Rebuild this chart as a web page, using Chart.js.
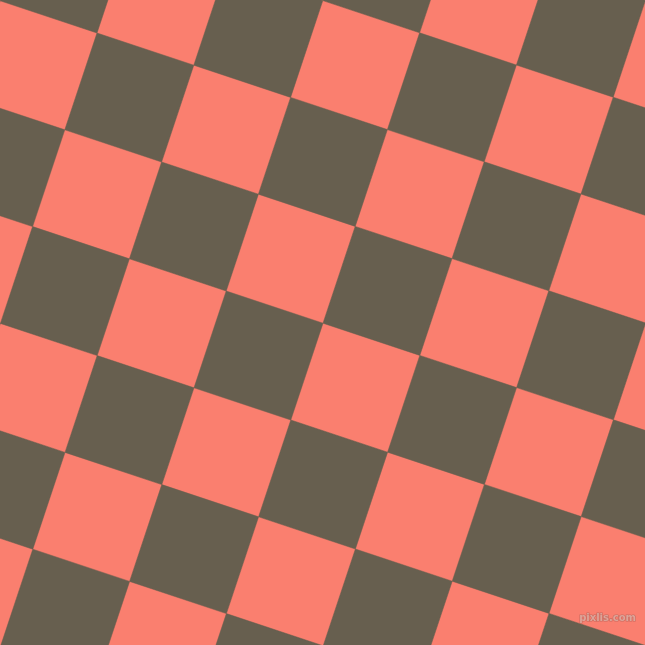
<!DOCTYPE html>
<html>
<head>
<meta charset="utf-8">
<script src="https://cdn.jsdelivr.net/npm/chart.js@4.4.1/dist/chart.umd.min.js"></script>
<style>
  html, body { margin: 0; padding: 0; background: #fa7f6f; }
  #board { display: block; }
</style>
</head>
<body>
<canvas id="board" width="645" height="645"></canvas>
<script>
// lattice of the tilted board
const tileCols = [-2, -1, 0, 1, 2, 3, 4, 5, 6, 7];
const tileRows = [-3, -2, -1, 0, 1, 2, 3, 4, 5, 6];
const gridOrigin = [97, 33];
const stepAcross = [96.8, 32.2];
const stepDown = [-32.2, 96.8];
const tileColors = ["#675f4f", "#fa7f6f"];

const corner = (i, j) => ({
  x: gridOrigin[0] + i * stepAcross[0] + j * stepDown[0],
  y: gridOrigin[1] + i * stepAcross[1] + j * stepDown[1],
});

const datasets = [];
tileCols.forEach((i) => {
  tileRows.forEach((j) => {
    // only the dark squares, the light ones are the page behind
    if (((i + j) % 2 + 2) % 2 !== 0) return;
    datasets.push({
      data: [corner(i, j), corner(i + 1, j), corner(i + 1, j + 1), corner(i, j + 1), corner(i, j)],
      backgroundColor: tileColors[0],
      borderColor: tileColors[0],
      borderWidth: 0.5,
      pointRadius: 0,
      fill: "shape",
      tension: 0,
    });
  });
});

const watermark = {
  id: "watermark",
  afterDraw(chart) {
    const ctx = chart.ctx;
    ctx.save();
    ctx.font = "bold 10px 'DejaVu Sans'";
    ctx.textAlign = "right";
    ctx.textBaseline = "middle";
    ctx.strokeStyle = "rgba(180,100,90,0.7)";
    ctx.lineWidth = 1.2;
    ctx.strokeText("pixlis.com", 636, 618);
    ctx.fillStyle = "rgba(222,170,158,0.9)";
    ctx.fillText("pixlis.com", 636, 618);
    ctx.restore();
  },
};

new Chart(document.getElementById("board").getContext("2d"), {
  type: "line",
  data: { datasets },
  options: {
    responsive: false,
    animation: false,
    events: [],
    layout: { padding: 0 },
    plugins: { legend: { display: false }, tooltip: { enabled: false } },
    scales: {
      x: { type: "linear", min: 0, max: 645, display: false },
      y: { type: "linear", min: 0, max: 645, reverse: true, display: false },
    },
  },
  plugins: [watermark],
});
</script>
</body>
</html>
